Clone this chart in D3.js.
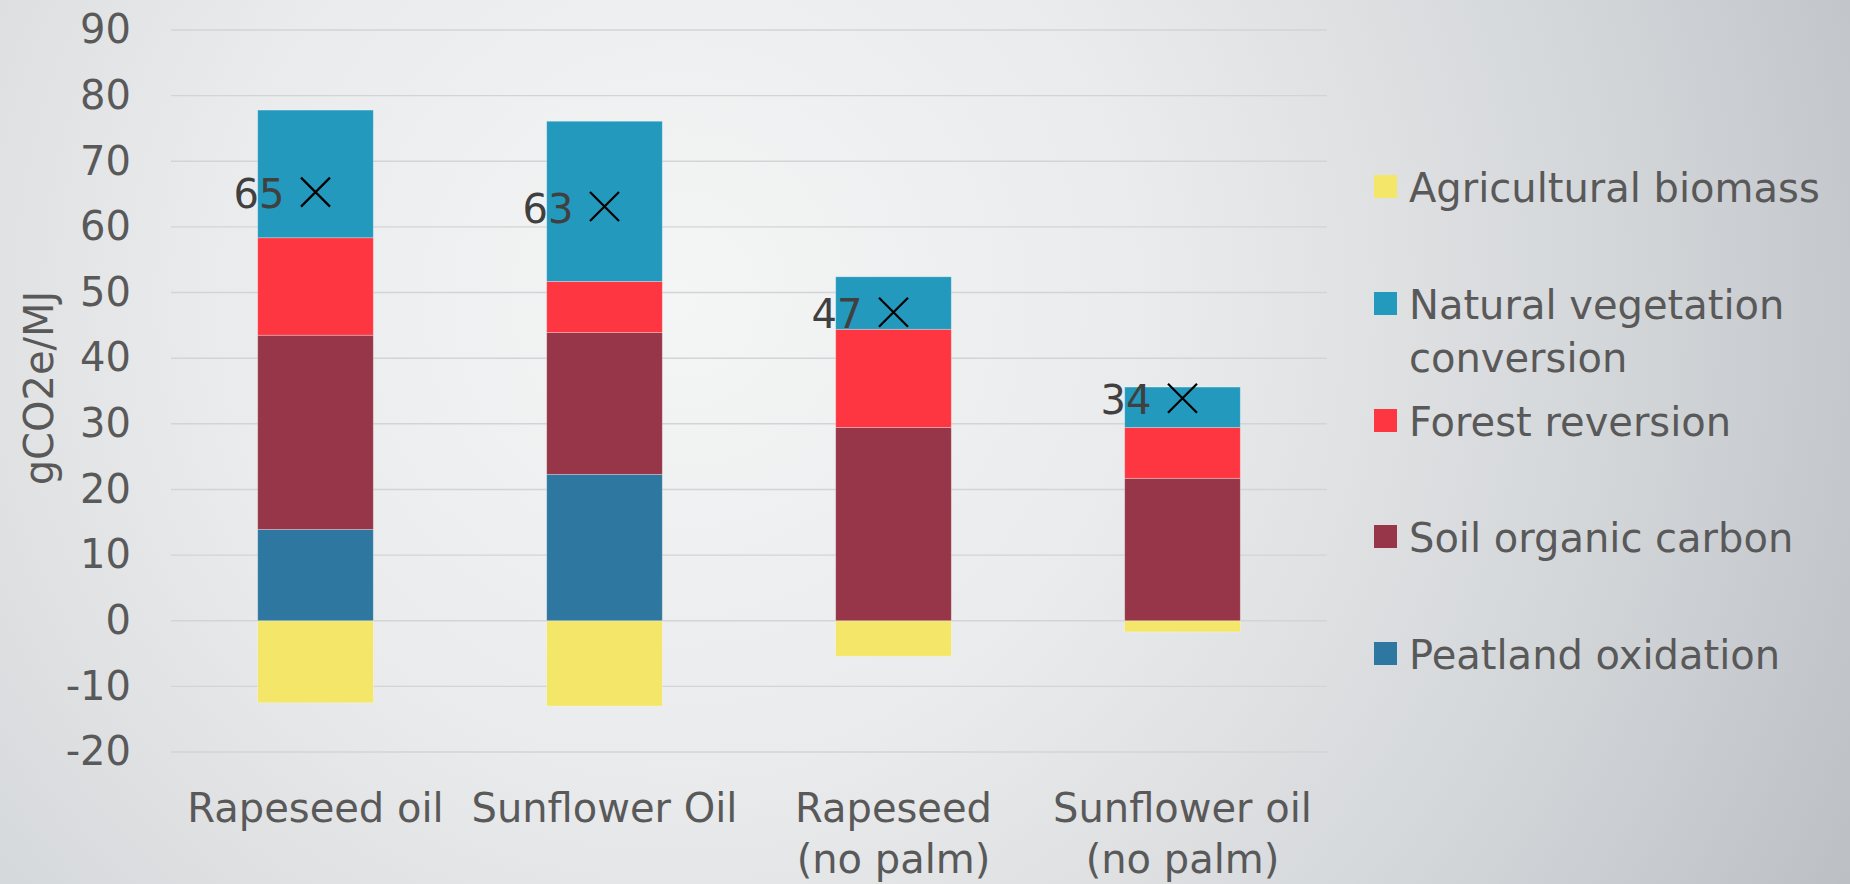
<!DOCTYPE html>
<html>
<head>
<meta charset="utf-8">
<script src="https://cdn.jsdelivr.net/npm/d3@7"></script>
<style>
  html, body { margin: 0; padding: 0; overflow: hidden; }
  svg { display: block; }
  text { font-family: "DejaVu Sans", sans-serif; }
</style>
</head>
<body>
<svg id="chart" width="1850" height="884"></svg>
<script>
// ---- data ----
const categories = [["Rapeseed oil"], ["Sunflower Oil"], ["Rapeseed", "(no palm)"], ["Sunflower oil", "(no palm)"]];
const agriculturalBiomass = [-12.5, -13.0, -5.4, -1.7];
const peatlandOxidation = [13.9, 22.3, 0, 0];
const soilOrganicCarbon = [29.6, 21.6, 29.45, 21.7];
const forestReversion = [14.85, 7.8, 14.95, 7.75];
const naturalVegetation = [19.45, 24.4, 8.0, 6.15];
const yTicks = [-20, -10, 0, 10, 20, 30, 40, 50, 60, 70, 80, 90];
const legendOrder = ["Agricultural biomass", "Natural vegetation conversion", "Forest reversion", "Soil organic carbon", "Peatland oxidation"];

const seriesDefs = [
  { name: "Agricultural biomass", values: agriculturalBiomass, color: "#f4e668" },
  { name: "Peatland oxidation", values: peatlandOxidation, color: "#2e77a0" },
  { name: "Soil organic carbon", values: soilOrganicCarbon, color: "#963648" },
  { name: "Forest reversion", values: forestReversion, color: "#fd3641" },
  { name: "Natural vegetation conversion", values: naturalVegetation, color: "#2399bd" }
];
const colorOf = Object.fromEntries(seriesDefs.map(s => [s.name, s.color]));

const table = categories.map((c, i) => {
  const row = { key: i };
  seriesDefs.forEach(s => row[s.name] = s.values[i]);
  return row;
});
const totals = table.map(r => d3.sum(seriesDefs, s => r[s.name]));

// ---- layout ----
const svg = d3.select("#chart");
const W = 1850, H = 884;
const plot = { left: 171, right: 1327, top: 30, bottom: 752 };

// background
const defs = svg.append("defs");
const grad = defs.append("radialGradient").attr("id", "bg")
  .attr("gradientUnits", "userSpaceOnUse")
  .attr("cx", 680).attr("cy", 300).attr("r", 1350);
grad.append("stop").attr("offset", "0").attr("stop-color", "#f4f5f5");
grad.append("stop").attr("offset", "0.35").attr("stop-color", "#eaebec");
grad.append("stop").attr("offset", "0.7").attr("stop-color", "#d3d6d9");
grad.append("stop").attr("offset", "1").attr("stop-color", "#b9bdc2");
svg.append("rect").attr("width", W).attr("height", H).attr("fill", "url(#bg)");

const x = d3.scaleBand().domain(table.map(r => r.key))
  .range([plot.left, plot.right]).paddingInner(0.6).paddingOuter(0.3);
const y = d3.scaleLinear().domain([-20, 90]).range([plot.bottom, plot.top]);

// gridlines
svg.append("g").selectAll("line").data(yTicks).join("line")
  .attr("x1", plot.left).attr("x2", plot.right)
  .attr("y1", d => y(d)).attr("y2", d => y(d))
  .attr("stroke", "#d3d4d5").attr("stroke-width", 1.4);

// y axis
const yAxis = svg.append("g").attr("transform", `translate(${plot.left},0)`)
  .call(d3.axisLeft(y).tickValues(yTicks).tickSize(0).tickPadding(40).tickFormat(d => String(d)));
yAxis.select(".domain").remove();
yAxis.selectAll("text").attr("font-size", 40).attr("fill", "#595959")
  .attr("font-family", "DejaVu Sans, sans-serif");

// y title
svg.append("text")
  .attr("transform", `translate(53,388) rotate(-90)`)
  .attr("text-anchor", "middle")
  .attr("font-size", 40).attr("fill", "#595959")
  .text("gCO2e/MJ");

// stacked bars
const stack = d3.stack().keys(seriesDefs.map(s => s.name)).offset(d3.stackOffsetDiverging);
const stacked = stack(table);
svg.append("g").selectAll("g").data(stacked).join("g")
  .attr("fill", d => colorOf[d.key])
  .selectAll("rect").data(d => d).join("rect")
  .attr("x", d => x(d.data.key))
  .attr("width", x.bandwidth())
  .attr("y", d => y(Math.max(d[0], d[1])))
  .attr("height", d => Math.abs(y(d[0]) - y(d[1])))
  .attr("stroke", "rgba(255,255,255,0.35)").attr("stroke-width", 0.8);

// x axis labels
const xAxis = svg.append("g").attr("transform", `translate(0,${plot.bottom})`)
  .call(d3.axisBottom(x).tickSize(0).tickFormat(() => ""));
xAxis.select(".domain").remove();
xAxis.selectAll(".tick text").each(function(d) {
  const t = d3.select(this).attr("y", 0).attr("dy", null)
    .attr("font-size", 40).attr("fill", "#595959")
    .attr("font-family", "DejaVu Sans, sans-serif");
  categories[d].forEach((line, j) => {
    t.append("tspan").attr("x", 0).attr("y", 70 + j * 51).text(line);
  });
});

// total markers
const mk = svg.append("g").selectAll("g").data(table).join("g")
  .attr("transform", (d, i) => `translate(${x(d.key) + x.bandwidth() / 2},${y(totals[i])})`);
const ms = 14.5;
mk.append("path").attr("d", `M${-ms},${-ms}L${ms},${ms}M${-ms},${ms}L${ms},${-ms}`)
  .attr("stroke", "#000").attr("stroke-width", 2.2).attr("fill", "none");
mk.append("text").attr("x", -31).attr("y", 16)
  .attr("text-anchor", "end").attr("font-size", 40).attr("fill", "#404040")
  .text((d, i) => Math.round(totals[i]));

// legend
const legY = [175, 292, 409, 525, 642];
const lg = svg.append("g").selectAll("g").data(legendOrder).join("g")
  .attr("transform", (d, i) => `translate(1374,${legY[i]})`);
lg.append("rect").attr("width", 23).attr("height", 23).attr("fill", d => colorOf[d]);
lg.each(function(d) {
  const g = d3.select(this);
  const lines = d === "Natural vegetation conversion" ? ["Natural vegetation", "conversion"] : [d];
  const t = g.append("text").attr("font-size", 40).attr("fill", "#595959");
  lines.forEach((l, j) => t.append("tspan").attr("x", 35).attr("y", 27 + j * 53).text(l));
});
</script>
</body>
</html>
